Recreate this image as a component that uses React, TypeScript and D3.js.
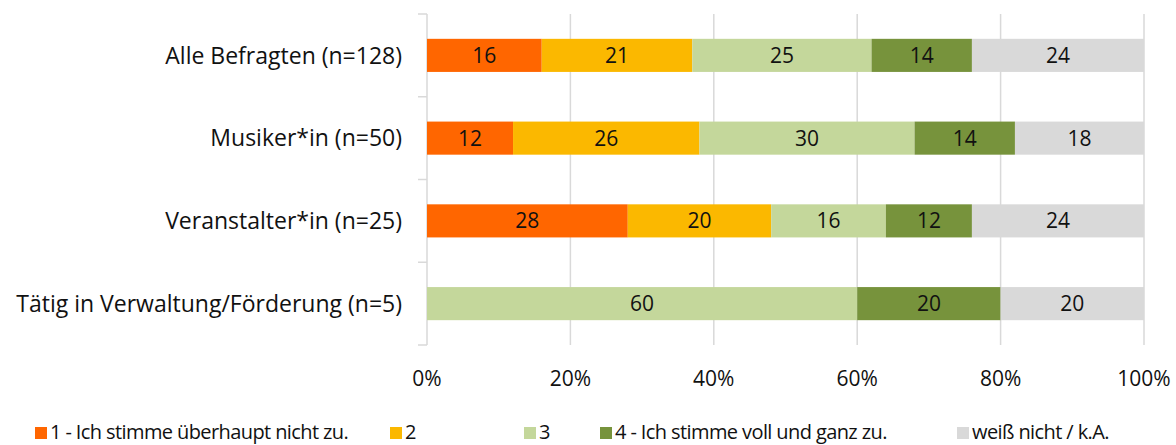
import React from 'react';
import * as d3 from 'd3';

const categories = [
  'Alle Befragten (n=128)',
  'Musiker*in (n=50)',
  'Veranstalter*in (n=25)',
  'Tätig in Verwaltung/Förderung (n=5)',
];
const seriesNames = [
  '1 - Ich stimme überhaupt nicht zu.',
  '2',
  '3',
  '4 - Ich stimme voll und ganz zu.',
  'weiß nicht / k.A.',
];
const s1 = [16, 12, 28, 0];
const s2 = [21, 26, 20, 0];
const s3 = [25, 30, 16, 60];
const s4 = [14, 14, 12, 20];
const s5 = [24, 18, 24, 20];
const tickValues = [0, 20, 40, 60, 80, 100];
const colors = ['#FF6600', '#FBB800', '#C4D79B', '#77933C', '#D9D9D9'];
const legendX = [35, 390, 524, 600, 957];

const W = 1176, H = 445;
const FONT = '"Open Sans", "Noto Sans", sans-serif';

const App = () => {
  const seriesValues = [s1, s2, s3, s4, s5];
  const rows = categories.map((c, i) => {
    const r: any = { cat: c };
    seriesNames.forEach((s, k) => { r[s] = seriesValues[k][i]; });
    return r;
  });
  const stacked = d3.stack<any>().keys(seriesNames)(rows);

  const x = d3.scaleLinear().domain([0, 100]).range([427, 1144]);
  const y = d3.scaleBand().domain(categories).range([14, 345]).paddingInner(0.6).paddingOuter(0.3);
  const band = d3.scaleBand().domain(categories).range([14, 345]);

  return (
    <svg width={W} height={H} style={{ position: 'absolute', left: 0, top: 0, background: '#fff' }}>
      {tickValues.map(t => (
        <line key={'g' + t} x1={x(t)} x2={x(t)} y1={14} y2={345} stroke="#D9D9D9" strokeWidth={1.5} />
      ))}
      {/* category axis ticks */}
      {[...categories.map(c => band(c)!), 345].map((v, i) => (
        <line key={'t' + i} x1={418} x2={427} y1={v} y2={v} stroke="#D9D9D9" strokeWidth={1.5} />
      ))}
      {stacked.map((s, k) => (
        <g key={s.key}>
          {s.map((d, i) => {
            const v = d[1] - d[0];
            if (v <= 0) return null;
            const cy = y(categories[i])!;
            return (
              <g key={i}>
                <rect x={x(d[0])} y={cy} width={x(d[1]) - x(d[0])} height={y.bandwidth()} fill={colors[k]} />
                <text x={(x(d[0]) + x(d[1])) / 2} y={cy + y.bandwidth() / 2} dy="0.36em"
                  textAnchor="middle" fontFamily={FONT} fontSize={21} fill="#111">{v}</text>
              </g>
            );
          })}
        </g>
      ))}
      {categories.map(c => (
        <text key={c} x={402} y={y(c)! + y.bandwidth() / 2} dy="0.36em" textAnchor="end"
          fontFamily={FONT} fontSize={23} fill="#111">{c}</text>
      ))}
      {tickValues.map(t => (
        <text key={'l' + t} x={x(t)} y={378} dy="0.36em" textAnchor="middle"
          fontFamily={FONT} fontSize={21} fill="#111">{t + '%'}</text>
      ))}
      {seriesNames.map((s, k) => (
        <g key={'lg' + s} transform={`translate(${legendX[k]},0)`}>
          <rect x={0} y={427} width={12} height={12} fill={colors[k]} />
          <text x={15} y={432} dy="0.36em" fontFamily={FONT} fontSize={20} letterSpacing={-0.6} fill="#111">{s}</text>
        </g>
      ))}
    </svg>
  );
};

export default App;
